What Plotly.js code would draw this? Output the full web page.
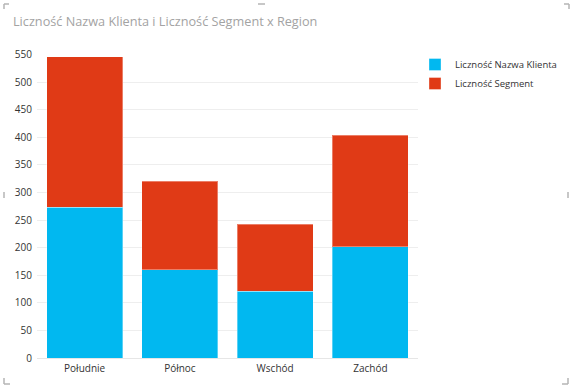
<!DOCTYPE html>
<html>
<head>
<meta charset="utf-8">
<script src="https://cdn.plot.ly/plotly-3.0.1.min.js"></script>
<style>html,body{margin:0;padding:0;background:#fff;}#chart{width:574px;height:389px;}</style>
</head>
<body>
<div id="chart"></div>
<script>
const regions = ["Południe", "Północ", "Wschód", "Zachód"];
const licznoscNazwaKlienta = [273, 160, 121, 202];
const licznoscSegment = [273, 160, 121, 202];
const seriesNames = ["Liczność Nazwa Klienta", "Liczność Segment"];
const yTicks = [0, 50, 100, 150, 200, 250, 300, 350, 400, 450, 500, 550];

const W = 574, H = 389;
const M = {l: 37, r: 156, t: 54, b: 31, autoexpand: false};
const pw = W - M.l - M.r, ph = H - M.t - M.b;
function px(x) { return (x - M.l) / pw; }
function py(y) { return (H - M.b - y) / ph; }
function seg(x0, y0, x1, y1) {
  return {type: 'line', xref: 'paper', yref: 'paper', x0: px(x0), y0: py(y0), x1: px(x1), y1: py(y1),
          line: {color: '#B5B5B5', width: 1.5}, layer: 'above'};
}
const marks = [
  seg(4, 4, 9, 4), seg(4, 4, 4, 9),
  seg(258, 4, 265, 4),
  seg(564, 4, 569, 4), seg(569, 4, 569, 9),
  seg(4, 192, 4, 198),
  seg(568, 192, 568, 198),
  seg(4, 378, 4, 384), seg(4, 384, 10, 384),
  seg(568, 378, 568, 384), seg(562, 384, 568, 384)
];

const font = "'Segoe UI', 'Open Sans', 'Noto Sans', sans-serif";

const data = [
  {type: 'bar', name: seriesNames[0], x: regions, y: licznoscNazwaKlienta,
   marker: {color: '#01B8F0', line: {color: 'rgba(255,255,255,0.35)', width: 1}}, hoverinfo: 'none'},
  {type: 'bar', name: seriesNames[1], x: regions, y: licznoscSegment,
   marker: {color: '#E03A16', line: {color: 'rgba(255,255,255,0.35)', width: 1}}, hoverinfo: 'none'}
];

const layout = {
  width: W, height: H,
  margin: M,
  barmode: 'stack',
  bargap: 0.2,
  paper_bgcolor: '#fff', plot_bgcolor: '#fff',
  font: {family: font, size: 10, color: '#333'},
  title: {text: 'Liczność Nazwa Klienta i Liczność Segment x Region',
          x: 13 / W, xanchor: 'left', xref: 'container', y: 1 - 22 / H, yanchor: 'middle', yref: 'container',
          font: {family: font, size: 12.7, color: '#A3A3A3'}},
  xaxis: {type: 'category', showgrid: false, zeroline: false, showline: false, ticks: '',
          ticklabelstandoff: 3, tickfont: {family: font, size: 10, color: '#333'}},
  yaxis: {range: [0, 551], tickvals: yTicks, ticktext: yTicks.map(String),
          showgrid: true, gridcolor: '#EEEEEE', gridwidth: 1, zeroline: true, zerolinecolor: '#E6E6E6',
          showline: false, ticks: '', ticklabelstandoff: 4,
          tickfont: {family: font, size: 10, color: '#333'}},
  showlegend: true,
  legend: {xref: 'container', yref: 'container', x: 415 / W, xanchor: 'left', y: 1 - 50 / H, yanchor: 'top',
           traceorder: 'normal', font: {family: font, size: 9.5, color: '#333'}, itemwidth: 30,
           bgcolor: 'rgba(0,0,0,0)'},
  shapes: marks
};

Plotly.newPlot('chart', data, layout, {displayModeBar: false, staticPlot: true});
</script>
</body>
</html>
